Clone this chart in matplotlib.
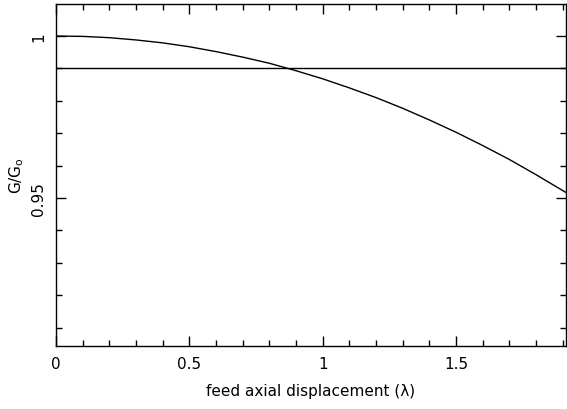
import matplotlib
matplotlib.use("Agg")
import matplotlib.pyplot as plt
from matplotlib.ticker import MultipleLocator

# gain loss vs feed axial displacement
displacement = [0.0, 0.1, 0.2, 0.3, 0.4, 0.5, 0.6, 0.7, 0.8, 0.9, 1.0,
                1.1, 1.2, 1.3, 1.4, 1.5, 1.6, 1.7, 1.8, 1.9, 1.91]
gain = [1.0000, 0.9999, 0.9995, 0.9988, 0.9979, 0.9967, 0.9952, 0.9935,
        0.9916, 0.9893, 0.9868, 0.9840, 0.9810, 0.9777, 0.9741, 0.9703,
        0.9662, 0.9619, 0.9572, 0.9523, 0.9518]
threshold = 0.99

fig = plt.figure(figsize=(5.67, 4.1), dpi=100)
ax = fig.add_axes([0.0988, 0.1537, 0.8992, 0.8341])

ax.plot(displacement, gain, color='black', lw=1)
ax.axhline(threshold, color='black', lw=1)

ax.set_xlim(0, 1.912)
ax.set_ylim(0.9043, 1.0099)

ax.xaxis.set_major_locator(MultipleLocator(0.5))
ax.xaxis.set_minor_locator(MultipleLocator(0.1))
ax.yaxis.set_major_locator(MultipleLocator(0.05))
ax.yaxis.set_minor_locator(MultipleLocator(0.01))
ax.xaxis.set_major_formatter(plt.FuncFormatter(lambda v, p: f"{v:g}"))
ax.yaxis.set_major_formatter(plt.FuncFormatter(lambda v, p: f"{v:g}"))

ax.tick_params(which='both', direction='in', top=True, right=True,
               width=1, labelsize=11, color='black')
ax.tick_params(which='major', length=7, pad=7)
ax.tick_params(which='minor', length=4)
for lab in ax.get_yticklabels():
    lab.set_rotation(90)
    lab.set_va('center')
for s in ax.spines.values():
    s.set_linewidth(1)

ax.set_xlabel('feed axial displacement (λ)', fontsize=11, labelpad=9)
ax.set_ylabel(r'G/G$_\mathregular{o}$', fontsize=11, labelpad=4)

fig.savefig('out.png', dpi=100)
